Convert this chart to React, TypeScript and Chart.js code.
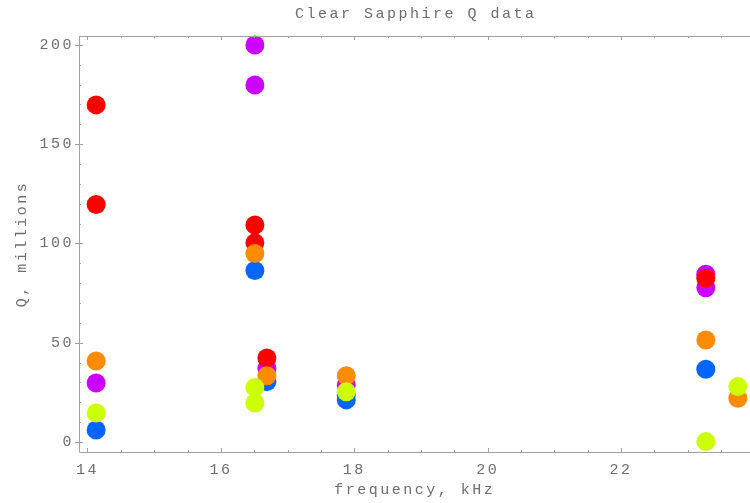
import React, { useEffect, useRef } from "react";
import { Chart, registerables } from "chart.js";

Chart.register(...registerables);

const TITLE = "Clear Sapphire Q data";
const X_LABEL = "frequency, kHz";
const Y_LABEL = "Q, millions";
const X_TICKS = [14, 16, 18, 20, 22];
const Y_TICKS = [0, 50, 100, 150, 200];

// series: frequency (kHz) / Q (millions)
const purpleX = [14.13, 16.51, 16.51, 16.69, 17.88, 23.27, 23.27];
const purpleY = [29.7, 200, 179.8, 37, 28.7, 84.5, 77.7];
const redX = [14.13, 14.13, 16.51, 16.51, 16.69, 17.88, 23.27];
const redY = [169.8, 119.6, 109.3, 100.3, 42.3, 23.7, 82.5];
const blueX = [14.13, 16.51, 16.69, 17.88, 23.27];
const blueY = [6.0, 86.4, 30.4, 21.2, 36.6];
const orangeX = [14.13, 16.51, 16.69, 17.88, 23.27, 23.75];
const orangeY = [40.8, 94.9, 33.4, 33.4, 51.4, 22.0];
const greenX = [14.13, 16.51, 16.51, 17.88, 23.27, 23.75];
const greenY = [14.6, 27.5, 19.6, 25.3, 0.2, 27.9];

const pts = (xs: number[], ys: number[]) => xs.map((x, i) => ({ x, y: ys[i] }));

const FONT = "'Liberation Mono', 'Courier New', monospace";
const TEXT = "#6e6e6e";
const AXIS = "#a0a0a0";

export default function App() {
  const ref = useRef<HTMLCanvasElement>(null);
  useEffect(() => {
    if (!ref.current) return;
    const deco = {
      id: "deco",
      beforeDraw(chart: any) {
        chart.ctx.letterSpacing = "2.5px";
      },
      afterDraw(chart: any) {
        const { ctx, chartArea: a, scales } = chart;
        const xs = scales.x, ys = scales.y;
        ctx.save();
        ctx.letterSpacing = "0px";
        ctx.strokeStyle = AXIS;
        ctx.lineWidth = 1;
        ctx.beginPath();
        ctx.moveTo(a.left + 0.5, a.top + 0.5);
        ctx.lineTo(a.right, a.top + 0.5);
        ctx.moveTo(a.left + 0.5, a.top);
        ctx.lineTo(a.left + 0.5, a.bottom + 0.5);
        ctx.lineTo(a.right, a.bottom + 0.5);
        ctx.stroke();
        ctx.beginPath();
        for (let v = 14; v <= 24; v += 0.5) {
          const px = Math.round(xs.getPixelForValue(v)) + 0.5;
          if (px > a.right) break;
          const major = Math.abs(v % 2) < 1e-6;
          const len = major ? 4 : 2;
          ctx.moveTo(px, a.bottom);
          ctx.lineTo(px, a.bottom - len);
          ctx.moveTo(px, a.top);
          ctx.lineTo(px, a.top + len);
        }
        for (let v = 0; v <= 200; v += 10) {
          const py = Math.round(ys.getPixelForValue(v)) + 0.5;
          const major = v % 50 === 0;
          if (major) {
            ctx.moveTo(a.left - 4, py);
            ctx.lineTo(a.left + 4, py);
          } else {
            ctx.moveTo(a.left, py);
            ctx.lineTo(a.left + 2, py);
          }
        }
        ctx.stroke();
        ctx.fillStyle = TEXT;
        ctx.font = `15px ${FONT}`;
        ctx.letterSpacing = "2.5px";
        ctx.textAlign = "center";
        ctx.textBaseline = "middle";
        ctx.fillText(TITLE, (a.left + a.right) / 2 + 1, 14);
        ctx.restore();
      },
    };
    const chart = new Chart(ref.current, {
      type: "scatter",
      data: {
        // first dataset is drawn on top
        datasets: [
          { data: pts(greenX, greenY), backgroundColor: "#ccff00" },
          { data: pts(orangeX, orangeY), backgroundColor: "#ff8c00" },
          { data: pts(blueX, blueY), backgroundColor: "#0066ff" },
          { data: pts(redX, redY), backgroundColor: "#ff0000" },
          { data: pts(purpleX, purpleY), backgroundColor: "#cc00ff" },
        ].map((d) => ({ ...d, pointRadius: 9.5, pointHoverRadius: 9.5, borderWidth: 0, clip: false as any })),
      },
      options: {
        responsive: false,
        animation: false,
        layout: { padding: { top: 36, right: 9, left: 0, bottom: 0 } },
        plugins: { legend: { display: false }, tooltip: { enabled: false }, title: { display: false } },
        scales: {
          x: {
            type: "linear",
            min: 13.873,
            max: 23.94,
            afterBuildTicks: (s: any) => { s.ticks = X_TICKS.map((v) => ({ value: v })); },
            afterFit: (s: any) => { s.height = 51; },
            grid: { display: false, drawTicks: false },
            border: { display: false },
            ticks: { color: TEXT, font: { family: FONT, size: 15 }, padding: 9, maxRotation: 0, autoSkip: false },
            title: { display: true, text: X_LABEL, color: TEXT, font: { family: FONT, size: 15 }, padding: { top: 0, bottom: 4 } },
          },
          y: {
            type: "linear",
            min: -5.04,
            max: 204.5,
            afterBuildTicks: (s: any) => { s.ticks = Y_TICKS.map((v) => ({ value: v })); },
            afterFit: (s: any) => { s.width = 79; },
            grid: { display: false, drawTicks: false },
            border: { display: false },
            ticks: { color: TEXT, font: { family: FONT, size: 15 }, padding: 5, autoSkip: false },
            title: { display: true, text: Y_LABEL, color: TEXT, font: { family: FONT, size: 15 }, padding: { top: 13, bottom: 0 } },
          },
        },
      },
      plugins: [deco],
    });
    return () => chart.destroy();
  }, []);
  return (
    <div style={{ position: "fixed", left: 0, top: 0, width: 750, height: 503, overflow: "hidden", background: "#fff" }}>
      <canvas ref={ref} width={760} height={503} style={{ display: "block" }} />
    </div>
  );
}
